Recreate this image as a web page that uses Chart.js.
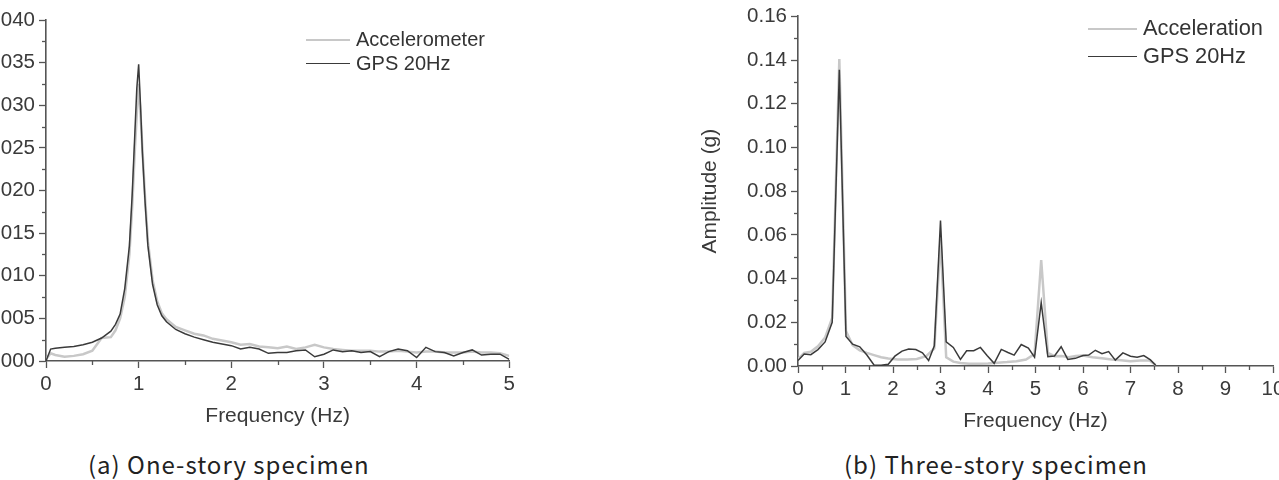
<!DOCTYPE html>
<html>
<head>
<meta charset="utf-8">
<script src="https://cdn.jsdelivr.net/npm/chart.js@4.4.1/dist/chart.umd.min.js"></script>
<style>
  html, body { margin: 0; padding: 0; background: #fff; }
  body { width: 1279px; height: 480px; overflow: hidden; position: relative; font-family: "Liberation Sans", Arial, sans-serif; }
  canvas { position: absolute; }
  #cL { left: -15px; top: 0; }
  #cR { left: 690px; top: 0; }
  .leg { position: absolute; color: #333; white-space: nowrap; }
  .sw { position: absolute; height: 0; }
  .cap { position: absolute; top: 449px; font-family: "Noto Sans CJK KR", sans-serif; font-size: 24px; color: #222; letter-spacing: 1px; white-space: nowrap; line-height: 30px; }
</style>
</head>
<body>
<canvas id="cL" width="545" height="430"></canvas>
<canvas id="cR" width="620" height="435"></canvas>

<div class="sw" style="left:306px; top:39px; width:44px; border-top:2.5px solid #c8c8c8;"></div>
<div class="leg" style="left:356px; top:28px; font-size:20px;">Accelerometer</div>
<div class="sw" style="left:306px; top:63px; width:44px; border-top:1.5px solid #3a3a3a;"></div>
<div class="leg" style="left:356px; top:52px; font-size:20px;">GPS 20Hz</div>

<div class="sw" style="left:1088px; top:28px; width:49px; border-top:2.5px solid #c8c8c8;"></div>
<div class="leg" style="left:1143px; top:15px; font-size:21.8px;">Acceleration</div>
<div class="sw" style="left:1088px; top:56px; width:49px; border-top:1.5px solid #3a3a3a;"></div>
<div class="leg" style="left:1143px; top:43px; font-size:21.8px;">GPS 20Hz</div>

<div class="cap" id="capA" style="left:88px;">(a) One-story specimen</div>
<div class="cap" id="capB" style="left:844px;">(b) Three-story specimen</div>

<script>
// ---------- Data: (a) One-story specimen ----------
const freqL = [0, 0.05, 0.1, 0.2, 0.3, 0.4, 0.5, 0.6, 0.7, 0.75, 0.8, 0.85, 0.9, 0.93, 0.96, 0.98,
  1.0, 1.02, 1.04, 1.07, 1.1, 1.15, 1.2, 1.25, 1.3, 1.4, 1.5, 1.6, 1.7, 1.8, 1.9, 2.0,
  2.1, 2.2, 2.3, 2.4, 2.5, 2.6, 2.7, 2.8, 2.9, 3.0, 3.1, 3.2, 3.3, 3.4, 3.5, 3.6, 3.7, 3.8, 3.9,
  4.0, 4.1, 4.2, 4.3, 4.4, 4.5, 4.6, 4.7, 4.8, 4.9, 5.0];
const gpsL = [0, 0.0014, 0.0015, 0.0016, 0.0017, 0.0019, 0.0022, 0.0027, 0.0035, 0.0043, 0.0055, 0.0085, 0.0135, 0.0195, 0.027, 0.032,
  0.0348, 0.030, 0.0245, 0.0185, 0.0135, 0.0090, 0.0066, 0.0053, 0.0046, 0.0037, 0.0032, 0.0028, 0.0025, 0.0022, 0.0020, 0.0018,
  0.0014, 0.0016, 0.0014, 0.0009, 0.0010, 0.0010, 0.0012, 0.0013, 0.0005, 0.0008, 0.0013, 0.0011, 0.0012, 0.0010, 0.0011, 0.0005, 0.0011, 0.0014, 0.0012,
  0.0004, 0.0016, 0.0011, 0.0010, 0.0006, 0.0010, 0.0013, 0.0007, 0.0008, 0.0008, 0.0002];
const accL = [0.0002, 0.0009, 0.0007, 0.0005, 0.0006, 0.0008, 0.0012, 0.0027, 0.0028, 0.0036, 0.0050, 0.0075, 0.0125, 0.018, 0.025, 0.029,
  0.0325, 0.029, 0.025, 0.019, 0.014, 0.0095, 0.0070, 0.0056, 0.0049, 0.0040, 0.0036, 0.0032, 0.0030, 0.0026, 0.0024, 0.0022,
  0.0019, 0.0020, 0.0017, 0.0016, 0.0015, 0.0017, 0.0014, 0.0016, 0.0019, 0.0016, 0.0014, 0.0013, 0.0012, 0.0012, 0.0012, 0.0011, 0.0011, 0.0012, 0.0011,
  0.0010, 0.0011, 0.0011, 0.0010, 0.0010, 0.0010, 0.0011, 0.0010, 0.0010, 0.0009, 0.0006];

// ---------- Data: (b) Three-story specimen ----------
const gpsFreqR = [0, 0.13, 0.27, 0.42, 0.57, 0.72, 0.87, 1.01, 1.15, 1.3,
  1.45, 1.6, 1.75, 1.9, 2.04, 2.19, 2.33, 2.48, 2.62, 2.75,
  2.87, 3.0, 3.12, 3.27, 3.42, 3.55, 3.7, 3.84, 3.98, 4.13,
  4.28, 4.42, 4.55, 4.7, 4.85, 4.98, 5.12, 5.26, 5.4, 5.54,
  5.68, 5.84, 6.0, 6.12, 6.26, 6.4, 6.54, 6.68, 6.84, 7.0,
  7.14, 7.28, 7.42, 7.53];
const gpsR = [0.0025, 0.0055, 0.0052, 0.0075, 0.011, 0.020, 0.1355, 0.0135, 0.0100, 0.0088,
  0.0050, 0.0005, 0.0003, 0.0008, 0.0045, 0.0068, 0.0078, 0.0075, 0.0060, 0.0025,
  0.0092, 0.0665, 0.0110, 0.0085, 0.0030, 0.0070, 0.0070, 0.0085, 0.0048, 0.0012,
  0.0076, 0.0062, 0.0050, 0.0098, 0.0082, 0.0040, 0.0290, 0.0043, 0.0046, 0.0088,
  0.0030, 0.0035, 0.0048, 0.0050, 0.0072, 0.0056, 0.0066, 0.0027, 0.0060, 0.0045,
  0.0040, 0.0048, 0.0028, 0.0003];
const accFreqR = [0, 0.13, 0.27, 0.42, 0.57, 0.72, 0.87, 1.01, 1.15, 1.3,
  1.45, 1.6, 1.75, 1.9, 2.1, 2.3, 2.5, 2.7, 2.87, 3.0,
  3.12, 3.27, 3.42, 3.6, 3.8, 4.0, 4.2, 4.4, 4.6, 4.8,
  4.98, 5.12, 5.26, 5.4, 5.55, 5.7, 5.85, 6.0, 6.2, 6.4,
  6.6, 6.8, 7.0, 7.2, 7.4, 7.53];
const accR = [0.003, 0.006, 0.0065, 0.009, 0.013, 0.022, 0.1405, 0.016, 0.0095, 0.0072,
  0.0060, 0.0050, 0.0040, 0.0034, 0.0030, 0.0030, 0.0032, 0.0045, 0.0080, 0.0580,
  0.0040, 0.0020, 0.0014, 0.0010, 0.0010, 0.0012, 0.0015, 0.0018, 0.0022, 0.0030,
  0.0055, 0.0485, 0.0060, 0.0045, 0.0046, 0.0040, 0.0046, 0.0048, 0.0040, 0.0035,
  0.0030, 0.0026, 0.0022, 0.0025, 0.0025, 0.0005];

// axis settings
const xTicksL = { min: 0, max: 5, step: 1 };
const yTicksL = { min: 0, max: 0.04, step: 0.005, decimals: 3 };
const xTicksR = { min: 0, max: 10, step: 1 };
const yTicksR = { min: 0, max: 0.16, step: 0.02, decimals: 2 };
const xTitle = 'Frequency (Hz)';
const yTitleR = 'Amplitude (g)';
const labelsL = ['Accelerometer', 'GPS 20Hz'];
const labelsR = ['Acceleration', 'GPS 20Hz'];

const AXIS = '#555';
const TXT = '#3a3a3a';
const LIGHT = '#c8c8c8';
const DARK = '#3a3a3a';
const FONT = '"Liberation Sans", Arial, sans-serif';

function pts(xs, ys) { return xs.map((x, i) => ({ x: x, y: ys[i] })); }

const minorTicks = {
  id: 'minorTicks',
  afterDraw(chart) {
    const ctx = chart.ctx;
    const xs = chart.scales.x, ys = chart.scales.y;
    ctx.save();
    ctx.strokeStyle = AXIS;
    ctx.lineWidth = 1.3;
    const xt = xs.ticks.map(t => t.value);
    for (let i = 0; i < xt.length - 1; i++) {
      const px = Math.round(xs.getPixelForValue((xt[i] + xt[i + 1]) / 2)) + 0.5;
      ctx.beginPath(); ctx.moveTo(px, xs.top); ctx.lineTo(px, xs.top + 4); ctx.stroke();
    }
    const yt = ys.ticks.map(t => t.value);
    for (let i = 0; i < yt.length - 1; i++) {
      const py = Math.round(ys.getPixelForValue((yt[i] + yt[i + 1]) / 2)) + 0.5;
      ctx.beginPath(); ctx.moveTo(ys.right - 4, py); ctx.lineTo(ys.right, py); ctx.stroke();
    }
    ctx.restore();
  }
};

function makeChart(id, datasets, xt, yt, yTitle, pad, yWidth, xHeight, yTitlePad) {
  return new Chart(document.getElementById(id), {
    type: 'line',
    data: { datasets: datasets },
    plugins: [minorTicks],
    options: {
      responsive: false,
      animation: false,
      devicePixelRatio: 1,
      layout: { padding: pad },
      plugins: { legend: { display: false }, tooltip: { enabled: false } },
      elements: { point: { radius: 0 }, line: { tension: 0 } },
      scales: {
        x: {
          type: 'linear', min: xt.min, max: xt.max,
          afterFit(s) { s.height = xHeight; },
          ticks: { stepSize: xt.step, color: TXT, font: { family: FONT, size: 20.5 }, padding: 4, maxRotation: 0, autoSkip: false },
          grid: { display: true, drawOnChartArea: false, drawTicks: true, tickLength: 7, tickColor: AXIS, tickWidth: 1.3 },
          border: { display: true, color: AXIS, width: 1.6 },
          title: { display: true, text: xTitle, color: TXT, font: { family: FONT, size: 21 }, padding: { top: 0, bottom: 1.5 } }
        },
        y: {
          type: 'linear', min: yt.min, max: yt.max,
          afterFit(s) { s.width = yWidth; },
          ticks: { stepSize: yt.step, color: TXT, font: { family: FONT, size: 20.5 }, padding: 4, autoSkip: false,
            callback: v => Number(v).toFixed(yt.decimals) },
          grid: { display: true, drawOnChartArea: false, drawTicks: true, tickLength: 7, tickColor: AXIS, tickWidth: 1.3 },
          border: { display: true, color: AXIS, width: 1.6 },
          title: { display: !!yTitle, text: yTitle || '', color: TXT, font: { family: FONT, size: 21 }, padding: { top: yTitlePad, bottom: 0 } }
        }
      }
    }
  });
}

makeChart('cL', [
  { label: labelsL[1], data: pts(freqL, gpsL), borderColor: DARK, borderWidth: 1.5, order: 0 },
  { label: labelsL[0], data: pts(freqL, accL), borderColor: LIGHT, borderWidth: 2.5, order: 1 }
], xTicksL, yTicksL, null, { left: 0, right: 20.7, top: 20, bottom: 0 }, 61, 69, 0);

makeChart('cR', [
  { label: labelsR[1], data: pts(gpsFreqR, gpsR), borderColor: DARK, borderWidth: 1.5, order: 0 },
  { label: labelsR[0], data: pts(accFreqR, accR), borderColor: LIGHT, borderWidth: 2.5, order: 1 }
], xTicksR, yTicksR, yTitleR, { left: 0, right: 37, top: 14, bottom: 0 }, 108, 69, 7.4);
</script>
</body>
</html>
